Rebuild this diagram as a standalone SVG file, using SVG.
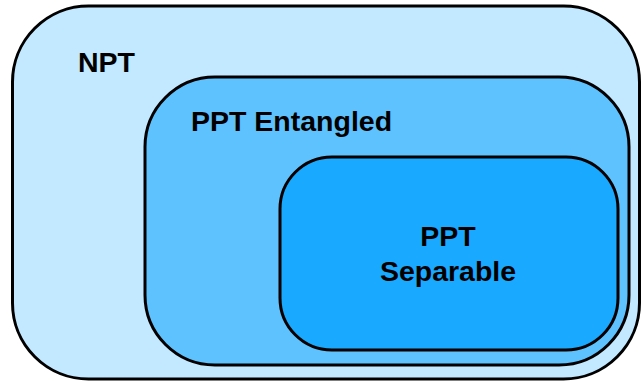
<svg xmlns="http://www.w3.org/2000/svg" width="643" height="381" viewBox="0 0 643 381">
  <style>
    .set { stroke: #000; stroke-width: 3; }
    .label { font-family: "Liberation Sans", Arial, sans-serif; font-weight: bold; font-size: 28.5px; fill: #000; }
  </style>
  <rect width="643" height="381" fill="#fff"/>
  <g id="npt">
    <rect class="set" x="12.5" y="6" width="627" height="373" rx="76" ry="76" fill="#C2E9FF"/>
    <text class="label" x="78" y="72">NPT</text>
  </g>
  <g id="ppt-entangled">
    <rect class="set" x="145" y="77" width="484" height="288" rx="70" ry="70" fill="#5EC2FE"/>
    <text class="label" x="191" y="131">PPT Entangled</text>
  </g>
  <g id="ppt-separable">
    <rect class="set" x="280" y="157" width="338" height="193" rx="52" ry="52" fill="#19A9FF"/>
    <text class="label" x="448" y="246" text-anchor="middle">PPT</text>
    <text class="label" x="448" y="281" text-anchor="middle">Separable</text>
  </g>
  <g id="connectors"/>
</svg>
